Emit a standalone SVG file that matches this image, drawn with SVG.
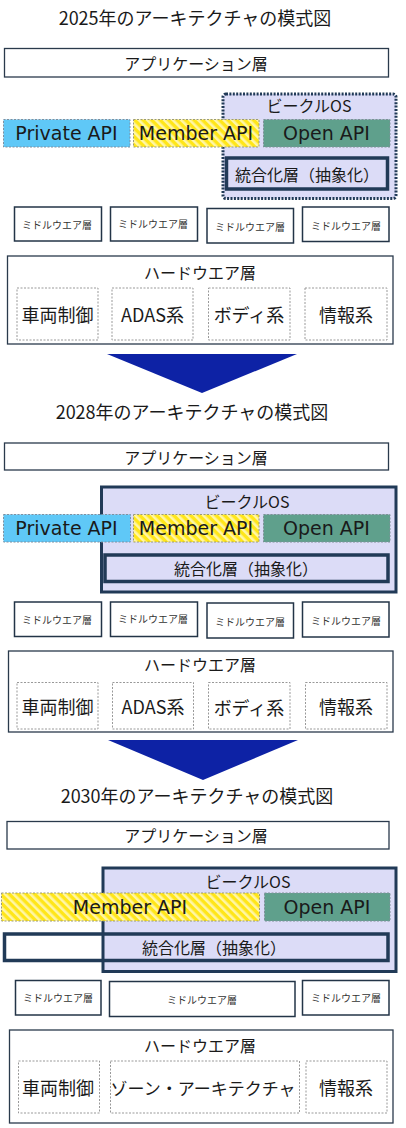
<svg xmlns="http://www.w3.org/2000/svg" width="406" height="1128" viewBox="0 0 406 1128">
<defs>
<pattern id="hatch" patternUnits="userSpaceOnUse" width="6" height="6" patternTransform="rotate(-45)">
<rect width="6" height="6" fill="#ffe619"/>
<rect width="2.6" height="6" fill="#fff6a6"/>
</pattern>
</defs>
<style>
text{font-family:"Noto Sans CJK JP",sans-serif;fill:#1a1a1a;text-anchor:middle;dominant-baseline:central}
.title{font-size:18px}
.t16{font-size:16px}
.t17{font-size:17px}
.t18{font-size:18px}
.api{font-family:"DejaVu Sans","Noto Sans CJK JP",sans-serif;font-size:19px}
.mw{font-size:10px;fill:#333}
.box{fill:#fff;stroke:#2a3a4c;stroke-width:1.3}
.mwbox{fill:#fff;stroke:#233447;stroke-width:1.5}
.os{fill:#dcdcf7;stroke:#213a57;stroke-width:3}
.osdot{fill:#dcdcf7;stroke:#213a57;stroke-width:3;stroke-dasharray:2 1.4}
.integ{fill:none;stroke:#213a57;stroke-width:3.5}
.priv{fill:#5fc8f7;stroke:#7e8fa0;stroke-width:1;stroke-dasharray:2 1.5}
.mem{fill:url(#hatch);stroke:#9a9a7a;stroke-width:1;stroke-dasharray:2 1.5}
.open{fill:#5fa08c;stroke:#7e8f98;stroke-width:1;stroke-dasharray:2 1.5}
.hw{fill:#fff;stroke:#2a3a4c;stroke-width:1.3}
.hwin{fill:#fff;stroke:#999;stroke-width:1;stroke-dasharray:2 1.5}
.arrow{fill:#0d22a5}
</style>

<!-- ===== 2025 ===== -->
<g id="title2025"><text class="title" x="195" y="17">2025年のアーキテクチャの模式図</text></g>
<g id="app2025"><rect class="box" x="4.5" y="48.5" width="384" height="28.5"/><text class="t16" x="196" y="62.5">アプリケーション層</text></g>
<g id="os2025"><rect class="osdot" x="223" y="94" width="173" height="104.5" rx="3"/><text class="t16" x="309" y="105">ビークルOS</text></g>
<g id="priv2025"><rect class="priv" x="3.5" y="119.5" width="126.5" height="27.5"/><text class="api" x="66.5" y="133">Private API</text></g>
<g id="mem2025"><rect class="mem" x="133.5" y="119.5" width="125.5" height="27.5"/><text class="api" x="196" y="133">Member API</text></g>
<g id="open2025"><rect class="open" x="263.5" y="119.5" width="126.5" height="27.5"/><text class="api" x="326.5" y="133">Open API</text></g>
<g id="integ2025"><rect class="integ" x="226.5" y="158" width="161" height="31"/><text class="t16" x="307" y="173.5">統合化層（抽象化）</text></g>
<g id="mw2025a"><rect class="mwbox" x="14.5" y="207" width="87" height="34"/><text class="mw" x="57" y="224">ミドルウエア層</text></g>
<g id="mw2025b"><rect class="mwbox" x="110.5" y="207" width="87" height="34"/><text class="mw" x="153" y="223.5">ミドルウエア層</text></g>
<g id="mw2025c"><rect class="mwbox" x="207" y="208.5" width="86.5" height="34.5"/><text class="mw" x="250" y="226">ミドルウエア層</text></g>
<g id="mw2025d"><rect class="mwbox" x="302.5" y="207" width="86.5" height="34.5"/><text class="mw" x="346" y="225">ミドルウエア層</text></g>
<g id="hw2025"><rect class="hw" x="7.5" y="256" width="385.5" height="88"/><text class="t16" x="200" y="272">ハードウエア層</text>
<rect class="hwin" x="17" y="288" width="81" height="52"/><text class="t18" x="57.5" y="314">車両制御</text>
<rect class="hwin" x="112" y="288" width="81" height="52"/><text class="t18" x="152.5" y="314">ADAS系</text>
<rect class="hwin" x="208.5" y="288" width="81.5" height="52"/><text class="t18" x="249" y="314">ボディ系</text>
<rect class="hwin" x="305" y="288" width="82" height="52"/><text class="t18" x="346" y="314">情報系</text></g>
<g id="connectors">
<polygon class="arrow" points="107,354 297,354 202,393"/>
<polygon class="arrow" points="108,740 298,740 203,780"/>
</g>

<!-- ===== 2028 ===== -->
<g id="title2028"><text class="title" x="192" y="411">2028年のアーキテクチャの模式図</text></g>
<g id="app2028"><rect class="box" x="4.5" y="443" width="384" height="27"/><text class="t16" x="196" y="456.5">アプリケーション層</text></g>
<g id="os2028"><rect class="os" x="101.5" y="487" width="294.5" height="105"/><text class="t16" x="247" y="500.5">ビークルOS</text></g>
<g id="priv2028"><rect class="priv" x="3.5" y="514.5" width="127" height="27.5"/><text class="api" x="66.5" y="528">Private API</text></g>
<g id="mem2028"><rect class="mem" x="133.5" y="514.5" width="125.5" height="27.5"/><text class="api" x="196" y="528">Member API</text></g>
<g id="open2028"><rect class="open" x="263.5" y="514.5" width="126.5" height="27.5"/><text class="api" x="326.5" y="528">Open API</text></g>
<g id="integ2028"><rect class="integ" x="105" y="555" width="283" height="26.5"/><text class="t16" x="246" y="568">統合化層（抽象化）</text></g>
<g id="mw2028a"><rect class="mwbox" x="14.5" y="602" width="87" height="34.5"/><text class="mw" x="57" y="619">ミドルウエア層</text></g>
<g id="mw2028b"><rect class="mwbox" x="110.5" y="602" width="87" height="34.5"/><text class="mw" x="153" y="618.5">ミドルウエア層</text></g>
<g id="mw2028c"><rect class="mwbox" x="207" y="603" width="86.5" height="35"/><text class="mw" x="250" y="621">ミドルウエア層</text></g>
<g id="mw2028d"><rect class="mwbox" x="302.5" y="602" width="86.5" height="35"/><text class="mw" x="346" y="620">ミドルウエア層</text></g>
<g id="hw2028"><rect class="hw" x="8.5" y="651" width="384.5" height="81"/><text class="t16" x="200" y="663.5">ハードウエア層</text>
<rect class="hwin" x="17" y="682.5" width="81" height="46.5"/><text class="t18" x="57.5" y="706">車両制御</text>
<rect class="hwin" x="112.5" y="682.5" width="81" height="46.5"/><text class="t18" x="153" y="706">ADAS系</text>
<rect class="hwin" x="208.5" y="682.5" width="81.5" height="46.5"/><text class="t18" x="249" y="707">ボディ系</text>
<rect class="hwin" x="305.5" y="682.5" width="81.5" height="46.5"/><text class="t18" x="346" y="706">情報系</text></g>

<!-- ===== 2030 ===== -->
<g id="title2030"><text class="title" x="197" y="795">2030年のアーキテクチャの模式図</text></g>
<g id="app2030"><rect class="box" x="7" y="821.5" width="382" height="27.5"/><text class="t16" x="196" y="835">アプリケーション層</text></g>
<g id="os2030"><rect class="os" x="103" y="868" width="293" height="103.5"/><text class="t16" x="248" y="880.5">ビークルOS</text></g>
<g id="mem2030"><rect class="mem" x="1.5" y="893" width="258" height="28"/><text class="api" x="130" y="907">Member API</text></g>
<g id="open2030"><rect class="open" x="264.5" y="893" width="125.5" height="28"/><text class="api" x="327" y="907">Open API</text></g>
<g id="integ2030"><rect class="integ" x="4.5" y="934" width="383.5" height="26.5"/><text class="t16" x="214" y="946.5">統合化層（抽象化）</text></g>
<g id="mw2030a"><rect class="mwbox" x="15.5" y="980.5" width="85.5" height="34.5"/><text class="mw" x="58" y="997">ミドルウエア層</text></g>
<g id="mw2030b"><rect class="mwbox" x="109.5" y="981.5" width="185.5" height="35"/><text class="mw" x="202" y="999">ミドルウエア層</text></g>
<g id="mw2030c"><rect class="mwbox" x="302.5" y="980.5" width="86.5" height="34.5"/><text class="mw" x="346" y="997.5">ミドルウエア層</text></g>
<g id="hw2030"><rect class="hw" x="9.5" y="1030" width="383.5" height="93"/><text class="t16" x="200" y="1045">ハードウエア層</text>
<rect class="hwin" x="18.5" y="1061" width="81" height="52"/><text class="t18" x="58" y="1087">車両制御</text>
<rect class="hwin" x="110.5" y="1061" width="189" height="52"/><text class="t17" x="203" y="1087">ゾーン・アーキテクチャ</text>
<rect class="hwin" x="306" y="1061" width="81" height="52"/><text class="t18" x="346" y="1087">情報系</text></g>
</svg>
